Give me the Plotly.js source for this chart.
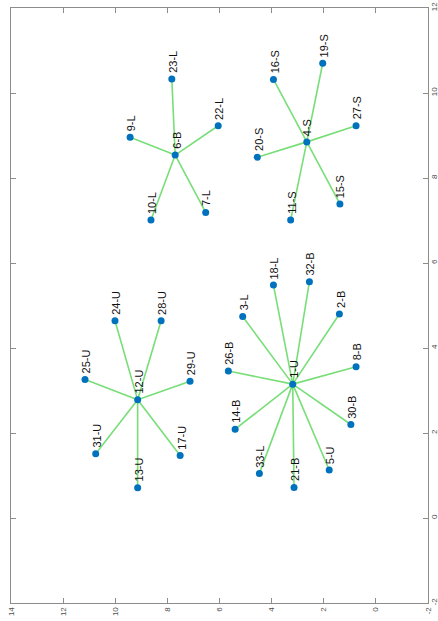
<!DOCTYPE html>
<html>
<head>
<meta charset="utf-8">
<script src="https://cdn.plot.ly/plotly-3.0.1.min.js"></script>
<style>html,body{margin:0;padding:0;background:#fff;}#chart{width:438px;height:621px;}</style>
</head>
<body>
<div id="chart"></div>
<script>
// Node labels and positions (original graph coordinates; the chart is shown rotated 90° CCW)
var nodeLabels = ["1-U","2-B","3-L","4-S","5-U","6-B","7-L","8-B","9-L","10-L","11-S","12-U","13-U","14-B","15-S","16-S","17-U","18-L","19-S","20-S","21-B","22-L","23-L","24-U","25-U","26-B","27-S","28-U","29-U","30-B","31-U","32-B","33-L"];
var nodeX = [3.15,4.80,4.74,8.85,1.13,8.54,7.19,3.56,8.96,7.01,7.01,2.78,0.71,2.09,7.39,10.32,1.47,5.48,10.70,8.49,0.72,9.23,10.33,4.64,3.26,3.46,9.23,4.64,3.22,2.20,1.51,5.56,1.05];
var nodeY = [3.19,1.40,5.11,2.65,1.79,7.70,6.53,0.76,9.43,8.63,3.27,9.14,9.14,5.40,1.38,3.93,7.51,3.93,2.04,4.55,3.14,6.05,7.83,10.01,11.16,5.66,0.76,8.24,7.13,0.96,10.75,2.55,4.47];
// Edges (1-based node indices)
var edgeSource = [1,1,1,1,1,1,1,1,1,1,1, 4,4,4,4,4,4, 6,6,6,6,6, 12,12,12,12,12,12,12];
var edgeTarget = [2,3,5,8,14,18,21,26,30,32,33, 11,15,16,19,20,27, 7,9,10,22,23, 13,17,24,25,28,29,31];
var xTicks = [14,12,10,8,6,4,2,0,-2];
var yTicks = [12,10,8,6,4,2,0,-2];

var ex = [], ey = [];
for (var i = 0; i < edgeSource.length; i++) {
  var s = edgeSource[i]-1, t = edgeTarget[i]-1;
  ex.push(nodeY[s], nodeY[t], null);
  ey.push(nodeX[s], nodeX[t], null);
}

var traces = [
  {type:'scatter', mode:'lines', x:ex, y:ey, line:{color:'rgb(120,222,120)', width:1.6}, hoverinfo:'skip', cliponaxis:false},
  {type:'scatter', mode:'markers', x:nodeY, y:nodeX, marker:{color:'#0072BD', size:7}, hoverinfo:'skip'}
];

var annotations = nodeLabels.map(function(lab, i){
  return {x:nodeY[i], y:nodeX[i], text:lab, showarrow:false, textangle:-90,
          xanchor:'center', yanchor:'bottom', yshift:4, xshift:1,
          font:{family:'Liberation Sans, Arial, sans-serif', size:11, color:'#111'}};
});

var axisCommon = {
  showgrid:false, zeroline:false, showline:true, linecolor:'#8c8c8c', linewidth:1,
  mirror:'ticks', ticks:'inside', ticklen:5, tickcolor:'#8c8c8c', tickwidth:1,
  tickangle:-90, tickfont:{family:'Liberation Sans, Arial, sans-serif', size:8, color:'#4d4d4d'}
};

var layout = {
  width:438, height:621,
  margin:{l:11, r:10, t:8, b:18},
  paper_bgcolor:'#fff', plot_bgcolor:'#fff',
  showlegend:false,
  xaxis:Object.assign({}, axisCommon, {range:[14,-2], tickvals:xTicks, ticktext:xTicks.map(String)}),
  yaxis:Object.assign({}, axisCommon, {range:[-2,12], side:'right', tickvals:yTicks, ticktext:yTicks.map(String), ticklabelstandoff:-2}),
  annotations:annotations
};

Plotly.newPlot('chart', traces, layout, {staticPlot:true, displayModeBar:false});
</script>
</body>
</html>
